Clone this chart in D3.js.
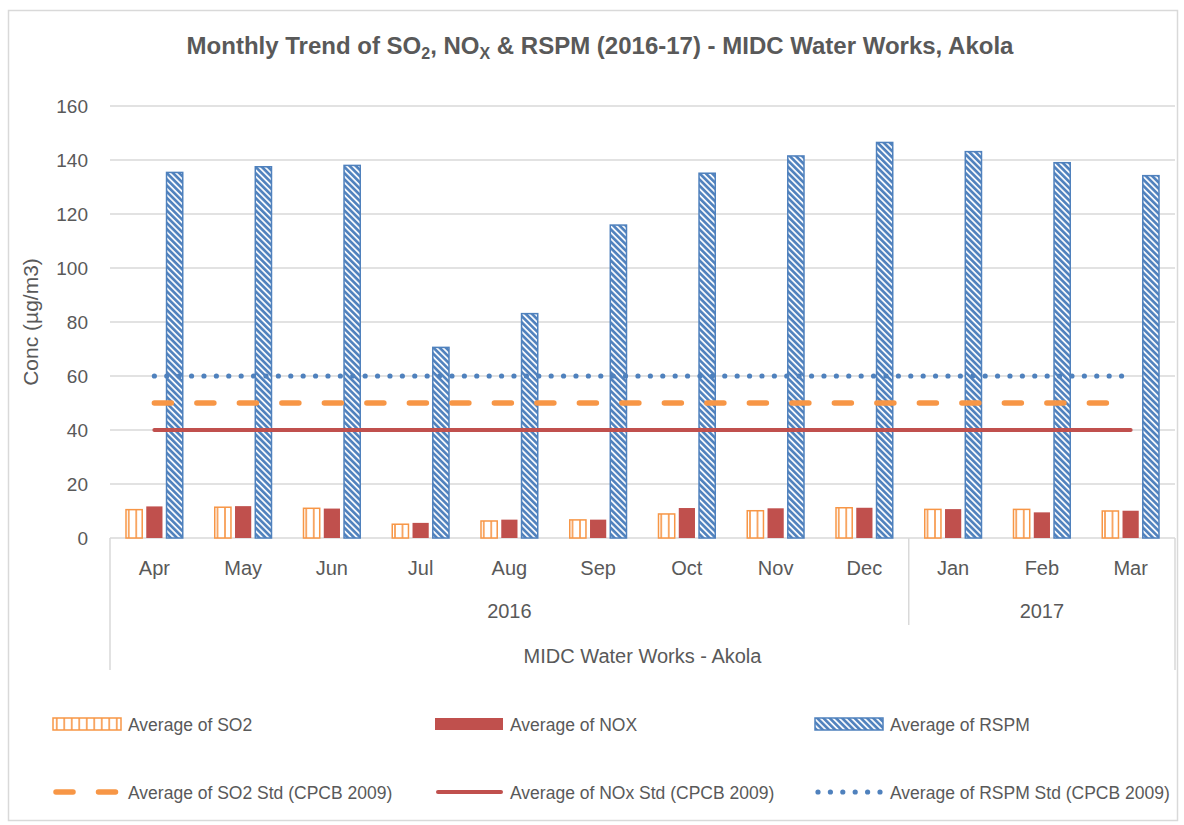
<!DOCTYPE html>
<html>
<head>
<meta charset="utf-8">
<script src="https://cdn.jsdelivr.net/npm/d3@7"></script>
<style>
  body { margin: 0; background: #fff; }
  text { font-family: "Liberation Sans Narrow", "Arial Narrow", "Liberation Sans", sans-serif; fill: #595959; }
</style>
</head>
<body>
<div class="chart"></div>
<script>
// data
const months = ['Apr', 'May', 'Jun', 'Jul', 'Aug', 'Sep', 'Oct', 'Nov', 'Dec', 'Jan', 'Feb', 'Mar'];
const years = [{label: '2016', from: 0, to: 8}, {label: '2017', from: 9, to: 11}];
const so2 = [10.5, 11.4, 11.0, 5.1, 6.3, 6.7, 8.9, 10.1, 11.2, 10.6, 10.6, 10.0];
const nox = [11.7, 11.8, 10.9, 5.6, 6.8, 6.8, 11.1, 11.0, 11.2, 10.7, 9.5, 10.1];
const rspm = [135.4, 137.5, 138.0, 70.6, 83.1, 115.9, 135.1, 141.5, 146.5, 143.1, 139.0, 134.2];
const so2Std = [50, 50, 50, 50, 50, 50, 50, 50, 50, 50, 50, 50];
const noxStd = [40, 40, 40, 40, 40, 40, 40, 40, 40, 40, 40, 40];
const rspmStd = [60, 60, 60, 60, 60, 60, 60, 60, 60, 60, 60, 60];
const yTicks = [0, 20, 40, 60, 80, 100, 120, 140, 160];

const W = 1184, H = 825;
const plot = {left: 110, right: 1175, top: 106, bottom: 538};

const svg = d3.select('.chart')
  .append('svg')
  .attr('width', W)
  .attr('height', H);

// patterns
const defs = svg.append('defs');
const pSo2 = defs.append('pattern')
  .attr('id', 'pSo2')
  .attr('patternUnits', 'userSpaceOnUse')
  .attr('width', 7.5).attr('height', 8);
pSo2.append('rect').attr('width', 7.5).attr('height', 8).attr('fill', '#fff');
pSo2.append('line').attr('x1', 3.75).attr('x2', 3.75).attr('y1', 0).attr('y2', 8)
  .attr('stroke', '#f79646').attr('stroke-width', 1.6);

const pRspm = defs.append('pattern')
  .attr('id', 'pRspm')
  .attr('patternUnits', 'userSpaceOnUse')
  .attr('width', 4.4).attr('height', 4.4)
  .attr('patternTransform', 'rotate(-45)');
pRspm.append('rect').attr('width', 4.4).attr('height', 4.4).attr('fill', '#fff');
pRspm.append('line').attr('x1', 1.4).attr('x2', 1.4).attr('y1', 0).attr('y2', 4.4)
  .attr('stroke', '#4f81bd').attr('stroke-width', 2.7);

// outer frame
svg.append('rect')
  .attr('x', 8.5).attr('y', 10.5)
  .attr('width', 1169).attr('height', 810)
  .attr('fill', 'none').attr('stroke', '#d9d9d9').attr('stroke-width', 1.5);

// scales
const x0 = d3.scaleBand().domain(months).range([plot.left, plot.right]).paddingInner(0);
const series = ['so2', 'nox', 'rspm'];
const x1 = d3.scaleBand().domain(series).range([16, x0.bandwidth() - 16]).paddingInner(0.2);
const y = d3.scaleLinear().domain([0, 160]).range([plot.bottom, plot.top]);

// grid
svg.append('g')
  .selectAll('line')
  .data(yTicks)
  .enter()
  .append('line')
  .attr('x1', plot.left).attr('x2', plot.right)
  .attr('y1', d => y(d)).attr('y2', d => y(d))
  .attr('stroke', '#d9d9d9').attr('stroke-width', 1.5);

// y axis labels
const yAxis = d3.axisLeft(y).tickValues(yTicks).tickSize(0).tickPadding(22);
const ya = svg.append('g')
  .attr('transform', `translate(${plot.left},0)`)
  .call(yAxis);
ya.select('.domain').remove();
ya.selectAll('text')
  .attr('font-size', 19)
  .attr('fill', '#595959')
  .style('font-family', '"Liberation Sans Narrow", "Arial Narrow", sans-serif');

svg.append('text')
  .attr('transform', `translate(38, ${(plot.top + plot.bottom) / 2}) rotate(-90)`)
  .attr('text-anchor', 'middle')
  .attr('font-size', 21)
  .text('Conc (µg/m3)');

// bars
const rows = months.map((m, i) => ({month: m, so2: so2[i], nox: nox[i], rspm: rspm[i]}));
const barStyle = {
  so2: {fill: 'url(#pSo2)', stroke: '#f79646'},
  nox: {fill: '#c0504d', stroke: 'none'},
  rspm: {fill: 'url(#pRspm)', stroke: '#4f81bd'}
};
svg.append('g')
  .selectAll('g')
  .data(rows)
  .enter()
  .append('g')
  .attr('transform', d => `translate(${x0(d.month)},0)`)
  .selectAll('rect')
  .data(d => series.map(k => ({key: k, value: d[k]})))
  .enter()
  .append('rect')
  .attr('x', d => x1(d.key))
  .attr('y', d => y(d.value))
  .attr('width', x1.bandwidth())
  .attr('height', d => y(0) - y(d.value))
  .attr('fill', d => barStyle[d.key].fill)
  .attr('stroke', d => barStyle[d.key].stroke)
  .attr('stroke-width', 1.5);

// standard lines
const cx = m => x0(m) + x0.bandwidth() / 2;
const line = d3.line().x((d, i) => cx(months[i])).y(d => y(d));
svg.append('path').datum(noxStd)
  .attr('d', line).attr('fill', 'none')
  .attr('stroke', '#c0504d').attr('stroke-width', 4).attr('stroke-linecap', 'round');
svg.append('path').datum(so2Std)
  .attr('d', line).attr('fill', 'none')
  .attr('stroke', '#f79646').attr('stroke-width', 5.5)
  .attr('stroke-linecap', 'round').attr('stroke-dasharray', '17 25.5');
svg.append('path').datum(rspmStd)
  .attr('d', line).attr('fill', 'none')
  .attr('stroke', '#4f81bd').attr('stroke-width', 5.2)
  .attr('stroke-linecap', 'round').attr('stroke-dasharray', '0 12.4');

// category axis
const axisG = svg.append('g');
axisG.selectAll('text.month')
  .data(months)
  .enter()
  .append('text')
  .attr('class', 'month')
  .attr('x', d => cx(d))
  .attr('y', 575)
  .attr('text-anchor', 'middle')
  .attr('font-size', 20)
  .text(d => d);

axisG.selectAll('text.year')
  .data(years)
  .enter()
  .append('text')
  .attr('class', 'year')
  .attr('x', d => (x0(months[d.from]) + x0(months[d.to]) + x0.bandwidth()) / 2)
  .attr('y', 618)
  .attr('text-anchor', 'middle')
  .attr('font-size', 20)
  .text(d => d.label);

axisG.append('text')
  .attr('x', (plot.left + plot.right) / 2)
  .attr('y', 663)
  .attr('text-anchor', 'middle')
  .attr('font-size', 20)
  .text('MIDC Water Works - Akola');

// separators
const seps = [
  {x: plot.left, y2: 670},
  {x: x0(months[years[1].from]), y2: 625},
  {x: plot.right, y2: 670}
];
axisG.selectAll('line')
  .data(seps)
  .enter()
  .append('line')
  .attr('x1', d => d.x).attr('x2', d => d.x)
  .attr('y1', plot.bottom).attr('y2', d => d.y2)
  .attr('stroke', '#d9d9d9').attr('stroke-width', 1.5);

// title
const title = svg.append('text')
  .attr('x', 600).attr('y', 54)
  .attr('text-anchor', 'middle')
  .attr('font-size', 24)
  .attr('font-weight', 'bold');
title.append('tspan').text('Monthly Trend of SO');
title.append('tspan').attr('font-size', 16).attr('dy', 5).text('2');
title.append('tspan').attr('dy', -5).text(', NO');
title.append('tspan').attr('font-size', 16).attr('dy', 5).text('X');
title.append('tspan').attr('dy', -5).text(' & RSPM (2016-17) - MIDC Water Works, Akola');

// legend
const legendItems = [
  {label: 'Average of SO2', type: 'bar', fill: 'url(#pSo2)', stroke: '#f79646'},
  {label: 'Average of NOX', type: 'bar', fill: '#c0504d', stroke: 'none'},
  {label: 'Average of RSPM', type: 'bar', fill: 'url(#pRspm)', stroke: '#4f81bd'},
  {label: 'Average of SO2 Std (CPCB 2009)', type: 'line', stroke: '#f79646', width: 5.5, dash: '17 25.5'},
  {label: 'Average of NOx Std (CPCB 2009)', type: 'line', stroke: '#c0504d', width: 4, dash: null},
  {label: 'Average of RSPM Std (CPCB 2009)', type: 'line', stroke: '#4f81bd', width: 5.2, dash: '0 12.4'}
];
const colX = [53, 435, 815];
const rowY = [724, 792];
const lg = svg.append('g')
  .selectAll('g')
  .data(legendItems)
  .enter()
  .append('g')
  .attr('transform', (d, i) => `translate(${colX[i % 3]},${rowY[Math.floor(i / 3)]})`);

lg.filter(d => d.type === 'bar')
  .append('rect')
  .attr('x', 0).attr('y', -6)
  .attr('width', 68).attr('height', 12)
  .attr('fill', d => d.fill)
  .attr('stroke', d => d.stroke)
  .attr('stroke-width', 1.5);

lg.filter(d => d.type === 'line')
  .append('line')
  .attr('x1', 3).attr('x2', 66)
  .attr('y1', 0).attr('y2', 0)
  .attr('stroke', d => d.stroke)
  .attr('stroke-width', d => d.width)
  .attr('stroke-linecap', 'round')
  .attr('stroke-dasharray', d => d.dash);

lg.append('text')
  .attr('x', 75)
  .attr('y', 7)
  .attr('font-size', 17.5)
  .text(d => d.label);
</script>
</body>
</html>
